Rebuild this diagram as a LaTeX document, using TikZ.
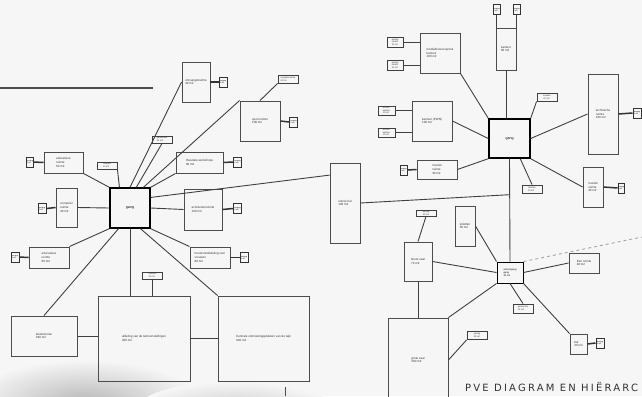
\documentclass[tikz,border=0pt]{standalone}
\usepackage{fontspec}
\setmainfont{Liberation Sans}
\newfontfamily\pvefont[LetterSpace=22]{DejaVu Sans}
\usetikzlibrary{calc}

\begin{document}
\begin{tikzpicture}[x=1pt, y=-1pt,
  room/.style={draw=black!70, line width=0.9pt, inner sep=1pt, align=left,
    font=\fontsize{3}{3.6}\selectfont, text=black!80},
  hub/.style={draw=black, line width=1.4pt, inner sep=0pt, align=left,
    font=\fontsize{3.6}{4}\selectfont},
  tag/.style={draw=black!75, line width=0.9pt, inner sep=0.5pt, minimum width=20pt,
    minimum height=8pt, align=left, font=\fontsize{2.2}{2.6}\selectfont, text=black!80},
  berg/.style={draw=black!80, line width=1pt, inner sep=0pt, minimum width=8pt,
    minimum height=10pt, align=left, font=\fontsize{1.8}{2.2}\selectfont},
  link/.style={draw=black!75, line width=0.9pt},
  stub/.style={draw=black!80, line width=1.5pt},
]

%--- Background ---
\fill[gray!7] (0,0) rectangle (642,396);
\useasboundingbox (0,0) rectangle (642,396);
\shade[inner color=gray!55, outer color=gray!7] (85,402) ellipse (115 and 42);
\shade[inner color=gray!35, outer color=gray!7] (235,406) ellipse (95 and 24);

% Top rule and bottom tick
\draw[black!70, line width=1.2pt] (0,88) -- (153,88);
\draw[black!70, line width=1pt] (285,387) -- (285,396);

%--- Left hub ---
\node[hub, minimum width=40pt, minimum height=40pt] (gangL) at (130,208) {gang};

\node[room, minimum width=28pt, minimum height=40pt] (ontvangst) at (196,82) {ontvangstruimte\\40 m2};
\node[berg] (bergOntv) at (223,82) {berging\\5 m2};
\node[tag] (vergader) at (288,79) {vergaderruimte\\20 m2};
\node[room, minimum width=40pt, minimum height=40pt] (sport) at (260,121) {sport ruimte\\100 m2};
\node[berg] (bergSport) at (293.5,122) {berging\\5 m2};
\node[tag, minimum height=7pt] (garderobe) at (162,139.5) {garderobe\\10 m2};
\node[room, minimum width=47pt, minimum height=21pt] (theater) at (199.5,162.5) {theatrale workshops\\80 m2};
\node[berg] (bergTheater) at (237.5,162) {berging\\5 m2};
\node[room, minimum width=38pt, minimum height=41pt] (activiteit) at (203,209.5) {activiteitenruimte\\100 m2};
\node[berg] (bergActiv) at (237.5,208.5) {berging\\5 m2};
\node[tag, minimum height=7pt] (receptie) at (107,165.5) {receptie\\10 m2};
\node[room, minimum width=39pt, minimum height=21pt] (educatie1) at (63.5,162.5) {educatieve\\ruimte\\60 m2};
\node[berg, minimum width=6pt] (bergEdu1) at (30,162) {berging\\5 m2};
\node[room, minimum width=21pt, minimum height=39pt] (computer) at (66.5,207.5) {computer\\ruimte\\40 m2};
\node[berg] (bergComp) at (42,208.5) {berging\\5 m2};
\node[room, minimum width=40pt, minimum height=21pt] (educatie2) at (49,257.5) {educatieve\\ruimte\\60 m2};
\node[berg] (bergEdu2) at (15,257) {berging\\5 m2};
\node[room, minimum width=40pt, minimum height=21pt] (kunst) at (210,257.5) {Kunstontwikkeling voor\\vrouwen\\80 m2};
\node[berg] (bergKunst) at (244,257.5) {berging\\5 m2};
\node[room, minimum width=66pt, minimum height=40pt] (terras) at (44,336) {buitenterras\\180 m2};
\node[room, minimum width=92pt, minimum height=85pt] (expositie) at (144,338.5) {afdeling van de tentoonstellingen\\300 m2};
\node[tag, minimum height=7pt] (toiletL) at (152.5,275.5) {toiletten\\20 m2};
\node[room, minimum width=91pt, minimum height=85pt] (centrale) at (263.5,338.5) {Centrale ontmoetingsplekken van de wijk\\300 m2};
\node[room, minimum width=30pt, minimum height=80pt] (entree) at (345,203) {entree hal\\100 m2};

% Left connectors
\draw[link] (receptie.south east) -- (gangL.117);
\draw[link] (gangL.north) -- (ontvangst.west);
\draw[link] (gangL.73) -- (garderobe.south);
\draw[link] (gangL.57) -- (sport.north west);
\draw[link] (sport.north) -- (vergader.south west);
\draw[link] (gangL.north east) -- (theater.south west);
\draw[link] (gangL.east) -- (activiteit.west);
\draw[link] (gangL.27) -- (entree.119);
\draw[link] (computer.east) -- (gangL.west);
\draw[link] (educatie1.south east) -- (gangL.north west);
\draw[link] (educatie2.north east) -- (gangL.south west);
\draw[link] (terras.north) -- (gangL.241);
\draw[link] (gangL.south) -- (gangL.south |- expositie.north);
\draw[link] (gangL.297) -- (centrale.north west);
\draw[link] (gangL.south east) -- (kunst.north west);
\draw[link] (toiletL.south) -- (toiletL.south |- expositie.north);
\draw[link] (terras.east) -- (terras.east -| expositie.west);
\draw[link] (expositie.east) -- (centrale.west);

% Left storage stubs
\draw[stub] (bergOntv.west) -- (ontvangst.east);
\draw[stub] (bergSport.west) -- (sport.east);
\draw[stub] (bergTheater.west) -- (theater.east);
\draw[stub] (bergActiv.west) -- (activiteit.east);
\draw[stub] (bergKunst.west) -- (kunst.east);
\draw[stub] (bergEdu1.east) -- (educatie1.west);
\draw[stub] (bergComp.east) -- (computer.west);
\draw[stub] (bergEdu2.east) -- (educatie2.west);

%--- Right hub ---
\node[hub, minimum width=41pt, minimum height=39pt] (gangR) at (509.5,138.5) {gang};

\node[room, minimum width=20pt, minimum height=42pt] (kantoor) at (506,49) {kantoor\\60 m2};
\node[berg, minimum width=7pt] (bergK1) at (496.5,10) {berging\\5 m2};
\node[berg, minimum width=7pt] (bergK2) at (516.5,10) {berging\\5 m2};
\node[room, minimum width=40pt, minimum height=40pt] (media) at (440,53) {media/bioscoop/ook\\kantoor\\100 m2};
\node[tag, minimum width=16pt, minimum height=10pt] (opslagM1) at (395,42) {opslag\\media\\10 m2};
\node[tag, minimum width=16pt, minimum height=10pt] (opslagM2) at (395,65) {opslag\\media\\10 m2};
\node[room, minimum width=40pt, minimum height=40pt] (pwn) at (432,121) {kantoor (PWN)\\100 m2};
\node[tag, minimum width=17pt, minimum height=9pt] (archief1) at (386.5,110.5) {archief\\kantoor\\10 m2};
\node[tag, minimum width=17pt, minimum height=9pt] (archief2) at (386.5,132.5) {archief\\kantoor\\10 m2};
\node[room, minimum width=40pt, minimum height=19pt] (muziek1) at (437,169.5) {muziek\\ruimte\\30 m2};
\node[berg, minimum width=7pt] (bergMuz1) at (403.5,170) {berging\\5 m2};
\node[tag] (keuken) at (547,97) {keuken\\20 m2};
\node[room, minimum width=30pt, minimum height=80pt] (techniek) at (603,114) {technische\\ruimte\\100 m2};
\node[berg] (bergTech) at (637,113) {berging\\5 m2};
\node[room, minimum width=20pt, minimum height=40pt] (muziek2) at (593,187) {muziek\\ruimte\\40 m2};
\node[berg, minimum width=6pt] (bergMuz2) at (621,188) {berging\\5 m2};
\node[tag] (toiletR) at (532,189) {toiletten\\20 m2};

%--- Lower hub ---
\node[hub, minimum width=26pt, minimum height=21pt, line width=1pt,
  font=\fontsize{2.4}{2.8}\selectfont] (gangZ) at (510,272.5) {entree/gang\\gang\\30 m2};

\node[room, minimum width=28pt, minimum height=39pt] (zaal70) at (418,261.5) {Grote zaal\\70 m2};
\node[tag, minimum height=6pt] (opslagZ) at (426,213) {opslag\\10 m2};
\node[room, minimum width=20pt, minimum height=40pt] (toilet50) at (465,226) {toiletten\\50 m2};
\node[room, minimum width=30pt, minimum height=20pt] (eenruimte) at (584,263) {Een ruimte\\40 m2};
\node[tag, minimum height=9pt] (garderobeZ) at (523,308.5) {garderobe\\10 m2};
\node[room, minimum width=17pt, minimum height=20pt] (bar) at (578.5,344) {bar\\30 m2};
\node[berg] (bergBar) at (600,343) {berging\\5 m2};
\node[room, minimum width=60pt, minimum height=84pt] (grotezaal) at (418,360) {grote zaal\\300 m2};
\node[tag] (opslagG) at (477,335.5) {opslag\\20 m2};
\coordinate (dashEnd) at (642,237);
\coordinate (entreeJoin) at ($(gangR.south)!0.35!(gangZ.north)$);

% Right connectors
\draw[link] (kantoor.south) -- (kantoor.south |- gangR.north);
\draw[link] (bergK1.south) -- (bergK1.south |- kantoor.north);
\draw[link] (bergK2.south) -- (bergK2.south |- kantoor.north);
\draw[link] (media.south east) -- (gangR.north west);
\draw[link] (opslagM1.east) -- (opslagM1.east -| media.west);
\draw[link] (opslagM2.east) -- (opslagM2.east -| media.west);
\draw[link] (pwn.east) -- (gangR.west);
\draw[link] (archief1.east) -- (archief1.east -| pwn.west);
\draw[link] (archief2.east) -- (archief2.east -| pwn.west);
\draw[link] (muziek1.east) -- (gangR.south west);
\draw[link] (gangR.north east) -- (keuken.south west);
\draw[link] (gangR.east) -- (techniek.west);
\draw[link] (gangR.south east) -- (muziek2.west);
\draw[link] (gangR.298) -- (toiletR.north);
\draw[link] (gangR.south) -- (gangZ.north);
\draw[link] (entree.east) -- (entreeJoin);

\draw[stub] (bergMuz1.east) -- (muziek1.west);
\draw[stub] (techniek.east) -- (bergTech.west);
\draw[stub] (muziek2.east) -- (bergMuz2.west);

% Lower connectors
\draw[link] (zaal70.east) -- (gangZ.west);
\draw[link] (opslagZ.south) -- (zaal70.north);
\draw[link] (toilet50.east) -- (gangZ.north west);
\draw[link, dashed, draw=black!35] (gangZ.north east) -- (dashEnd);
\draw[link] (gangZ.east) -- (eenruimte.west);
\draw[link] (gangZ.south) -- (garderobeZ.north);
\draw[link] (gangZ.south east) -- (bar.north west);
\draw[link] (grotezaal.north east) -- (gangZ.south west);
\draw[link] (zaal70.south) -- (zaal70.south |- grotezaal.north);
\draw[link] (grotezaal.east) -- (opslagG.south west);
\draw[stub] (bar.east) -- (bergBar.west);

% Title
\node[anchor=base west, inner sep=0pt, font=\pvefont\fontsize{10}{12}\selectfont,
  text=black!80] (titel) at (465,391) {PVE DIAGRAM EN HIËRARC};

\end{tikzpicture}
\end{document}
